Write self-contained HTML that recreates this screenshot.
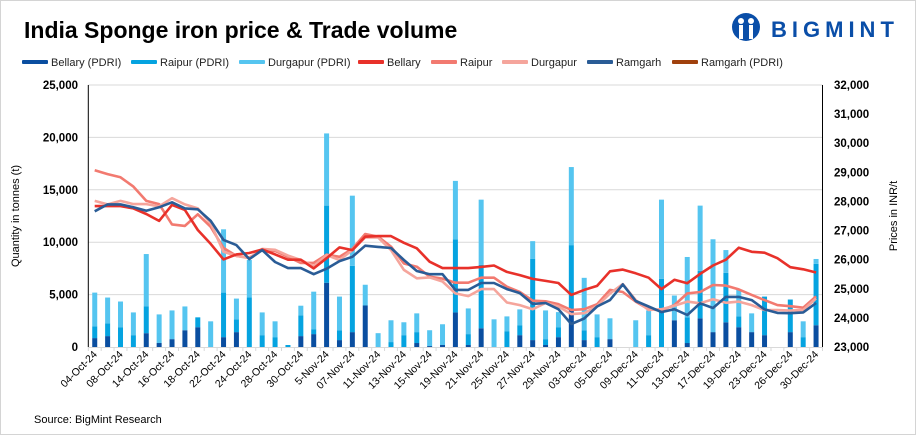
<!DOCTYPE html>
<html><head><meta charset="utf-8"><style>
body{margin:0;background:#fff;}
svg{display:block;font-family:"Liberation Sans",sans-serif;}
</style></head><body>
<svg id="chart" width="916" height="435" viewBox="0 0 916 435" xmlns="http://www.w3.org/2000/svg">
<rect x="0.5" y="0.5" width="915" height="434" fill="#fff" stroke="#d4d4d4"/>
<text x="24" y="38" font-size="23" font-weight="bold" fill="#000">India Sponge iron price &amp; Trade volume</text>
<g>
<circle cx="746" cy="27" r="14" fill="#0a4ea8"/>
<circle cx="741" cy="21" r="3" fill="#fff"/><circle cx="751" cy="21" r="3" fill="#fff"/>
<rect x="739" y="25" width="4" height="14" fill="#fff"/><rect x="749" y="25" width="4" height="14" fill="#fff"/>
<text x="771" y="37" font-size="22" font-weight="bold" fill="#0a4ea8" letter-spacing="5">BIGMINT</text>
</g>
<g id="legend"></g>
<g id="grid"></g><g id="bars"></g><g id="lines"></g><g id="axes"></g>
<text transform="translate(19,216) rotate(-90)" text-anchor="middle" font-size="11" fill="#000">Quantity in tonnes (t)</text>
<text transform="translate(897,216) rotate(-90)" text-anchor="middle" font-size="11" fill="#000">Prices in INR/t</text>
<text x="34" y="423" font-size="11" fill="#000">Source: BigMint Research</text>
</svg>
<script>
const categories=["04-Oct-24","05-Oct-24","08-Oct-24","09-Oct-24","14-Oct-24","15-Oct-24","16-Oct-24","17-Oct-24","18-Oct-24","21-Oct-24","22-Oct-24","23-Oct-24","24-Oct-24","25-Oct-24","28-Oct-24","29-Oct-24","30-Oct-24","4-Nov-24","5-Nov-24","06-Nov-24","07-Nov-24","08-Nov-24","11-Nov-24","12-Nov-24","13-Nov-24","14-Nov-24","15-Nov-24","18-Nov-24","19-Nov-24","20-Nov-24","21-Nov-24","22-Nov-24","25-Nov-24","26-Nov-24","27-Nov-24","28-Nov-24","29-Nov-24","02-Dec-24","03-Dec-24","04-Dec-24","05-Dec-24","06-Dec-24","09-Dec-24","10-Dec-24","11-Dec-24","12-Dec-24","13-Dec-24","16-Dec-24","17-Dec-24","18-Dec-24","19-Dec-24","20-Dec-24","23-Dec-24","24-Dec-24","26-Dec-24","27-Dec-24","30-Dec-24"];
const bellaryPdri=[850,1040,0,0,1320,380,750,1600,1890,0,940,1420,0,0,0,0,1040,1230,6130,660,1420,3960,0,0,0,380,90,190,3300,190,1790,0,0,1130,660,190,940,3680,660,0,750,0,0,0,0,2550,380,2740,1420,2360,1890,1420,1130,0,1420,0,2080];
const raipurPdri=[1130,1220,1890,1130,2550,0,0,0,940,0,4250,1220,4720,1130,940,190,1980,470,7360,940,6320,0,0,470,1130,1040,0,0,6980,1040,6040,0,1510,950,7740,560,950,6040,940,940,0,0,0,1130,6510,0,2450,4520,0,4720,1030,0,3680,0,3110,940,5850];
const durgapurPdri=[3210,2460,2450,2170,5000,2730,2740,2270,0,2450,6040,1980,3580,2170,1510,0,920,3580,6890,3210,6700,1980,1320,2080,1230,1790,1510,1980,5570,2450,6230,2640,1410,1510,1700,2740,1440,7450,5000,2170,1990,0,2550,2360,7550,2360,5760,6230,8860,2170,2550,1790,0,0,0,1510,470];
const bellary=[27840,27840,27840,27760,27570,27330,27880,27710,27020,26540,26010,26180,26230,26350,26180,26000,26000,25700,26050,26420,26330,26790,26810,26810,26580,26390,25930,25710,25710,25710,25750,25800,25580,25470,25340,25270,25200,24790,24960,25100,25600,25660,25530,25380,24990,25310,25190,25510,25800,26000,26410,26270,26240,26050,25740,25670,25560];
const raipur=[29070,28940,28830,28510,28020,27910,27210,27160,27560,27130,26400,26130,26070,26330,26300,26100,25890,25890,26170,26100,26370,26880,26790,26450,25870,25760,25420,25350,25210,25210,25380,25380,25070,24890,24590,24570,24470,24270,24300,24470,24960,24890,24560,24300,24260,24440,24840,24890,25130,25110,24980,24790,24610,24440,24400,24350,24740];
const durgapur=[28020,27900,28020,27910,27910,27830,28110,27900,27760,27250,26270,26130,26050,26370,26340,26140,25990,25780,26160,25990,26330,26770,26760,26330,25650,25360,25390,25250,24840,24750,24990,24990,24530,24440,24300,24510,24390,24130,24160,24410,24840,25160,24610,24270,24300,24420,24560,24500,24640,24520,24560,24440,24270,24270,24250,24270,24670];
const ramgarh=[27660,27900,27900,27800,27680,27800,27970,27760,27730,27330,26680,26500,26020,26330,25920,25710,25710,25500,25690,25950,26100,26480,26440,26400,25990,25610,25500,25500,24960,24960,25200,25200,24990,24850,24480,24510,24300,23790,23980,24390,24610,25150,24580,24390,24200,24300,24100,24500,24340,24720,24720,24610,24290,24170,24160,24190,24510];
const leftTicks=[0,5000,10000,15000,20000,25000];
const rightTicks=[23000,24000,25000,26000,27000,28000,29000,30000,31000,32000];

const NS="http://www.w3.org/2000/svg";
const X0=88.3,X1=822.5,Y0=347,Y1=85;
const n=categories.length,band=(X1-X0)/n;
function xc(i){return X0+(i+0.5)*band;}
function yL(v){return Y0-(v/25000)*(Y0-Y1);}
function yR(v){return Y0-((v-23000)/9000)*(Y0-Y1);}
function mk(tag,attrs,parent){const e=document.createElementNS(NS,tag);for(const k in attrs)e.setAttribute(k,attrs[k]);parent.appendChild(e);return e;}
const grid=document.getElementById('grid'),bars=document.getElementById('bars'),lines=document.getElementById('lines'),axes=document.getElementById('axes'),legend=document.getElementById('legend');

leftTicks.forEach(v=>{
  if(v>0){const g=mk('line',{x1:X0,x2:X1,y1:yL(v),y2:yL(v),stroke:'#d9d9d9','stroke-width':1},grid);
  
  }
  const t=mk('text',{x:78,y:yL(v)+4,'text-anchor':'end','font-size':11.5,'font-weight':'bold',fill:'#000'},axes);
  t.textContent=v.toLocaleString('en-US');
  
  
});
rightTicks.forEach(v=>{
  const t=mk('text',{x:834,y:yR(v)+4,'font-size':11.5,'font-weight':'bold',fill:'#000'},axes);
  t.textContent=v.toLocaleString('en-US');
  
  
});
const la=mk('line',{x1:X0,x2:X0,y1:Y1,y2:Y0,stroke:'#000','stroke-width':1},axes);


const ra=mk('line',{x1:X1,x2:X1,y1:Y1,y2:Y0,stroke:'#000','stroke-width':1},axes);


const xa=mk('line',{x1:X0,x2:X1,y1:Y0+0.5,y2:Y0+0.5,stroke:'#d9d9d9','stroke-width':1},axes);


for(let i=0;i<=n;i++){const tk=mk('line',{x1:X0+i*band,x2:X0+i*band,y1:Y0,y2:Y0+4,stroke:'#d9d9d9'},axes);
  
  }
categories.forEach((c,i)=>{
  if(i%2!==0)return;
  const t=mk('text',{transform:`translate(${xc(i)+3},${Y0+8}) rotate(-45)`,'text-anchor':'end','font-size':10.5,fill:'#000'},axes);
  t.textContent=c;
  
  
});

const bw=5;
categories.forEach((c,i)=>{
  let base=0;
  [[bellaryPdri,'#0a4ea0','bar-bellary-pdri'],[raipurPdri,'#05a3e0','bar-raipur-pdri'],[durgapurPdri,'#55c5f0','bar-durgapur-pdri']].forEach(([arr,col,nm])=>{
    const v=arr[i];if(v<=0)return;
    const r=mk('rect',{x:xc(i)-bw/2,y:yL(base+v),width:bw,height:yL(base)-yL(base+v),fill:col},bars);
    
    
    base+=v;
  });
});

[[raipur,'#f27a70','line-raipur'],[durgapur,'#f5a59c','line-durgapur'],[bellary,'#e8312a','line-bellary'],[ramgarh,'#2a5c96','line-ramgarh']].forEach(([arr,col,nm])=>{
  const p=mk('path',{d:arr.map((v,i)=>(i?'L':'M')+xc(i).toFixed(1)+' '+yR(v).toFixed(1)).join(' '),fill:'none',stroke:col,'stroke-width':2.6,'stroke-linejoin':'round'},lines);
  
  
});

const leg=[['Bellary (PDRI)','#0a4ea0',22],['Raipur (PDRI)','#05a3e0',131],['Durgapur (PDRI)','#55c5f0',239],['Bellary','#e8312a',358],['Raipur','#f27a70',431],['Durgapur','#f5a59c',502],['Ramgarh','#2a5c96',587],['Ramgarh (PDRI)','#a0410d',672]];
leg.forEach(([lab,col,x])=>{
  const g=mk('g',{},legend);
  
  
  mk('rect',{x:x,y:60,width:26,height:4,fill:col,rx:1},g);
  const t=mk('text',{x:x+29,y:66,'font-size':11,fill:'#222'},g);
  t.textContent=lab;
});
</script>
</body></html>
